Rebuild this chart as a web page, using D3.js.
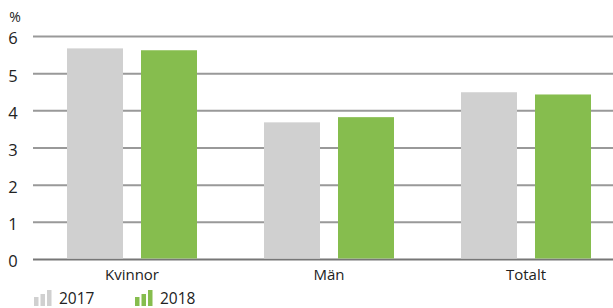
<!DOCTYPE html>
<html><head><meta charset="utf-8">
<script src="https://cdn.jsdelivr.net/npm/d3@7"></script>
<style>body{margin:0;background:#fff}svg{display:block}text{font-family:"Open Sans",sans-serif;fill:#222}</style>
</head><body>
<script>
const categories = ["Kvinnor", "Män", "Totalt"];
const years = ["2017", "2018"];
const values2017 = [5.68, 3.69, 4.50];
const values2018 = [5.63, 3.83, 4.44];
const yTicks = [0, 1, 2, 3, 4, 5, 6];
const colors = ["#d0d0d0", "#86bd4e"];

const W = 613, H = 308;
const svg = d3.select("body").append("svg").attr("width", W).attr("height", H);

const y = d3.scaleLinear().domain([0, 6]).range([259.5, 36.5]);
const x0 = d3.scaleBand().domain(categories).range([33, 624]).paddingInner(0).paddingOuter(0);
const x1 = d3.scaleBand().domain(years).range([34, 164]).paddingInner(18/74).paddingOuter(0);

// gridlines
svg.append("g").selectAll("line").data(yTicks).join("line")
  .attr("x1", 33).attr("x2", W)
  .attr("y1", d => y(d)).attr("y2", d => y(d))
  .attr("stroke", d => d === 0 ? "#777" : "#999").attr("stroke-width", 2);

// y tick labels
svg.append("g").selectAll("text").data(yTicks).join("text")
  .attr("x", 13).attr("y", d => y(d) + 2).attr("dy", "0.36em")
  .attr("text-anchor", "middle").style("font-size", "16.5px").text(d => d);
svg.append("text").attr("x", 15).attr("y", 22).attr("text-anchor", "middle")
  .style("font-size", "14px").text("%");

const series = [values2017, values2018];
const g = svg.append("g");
categories.forEach((c, i) => {
  years.forEach((yr, j) => {
    const v = series[j][i];
    g.append("rect")
      .attr("x", x0(c) + x1(yr)).attr("width", x1.bandwidth())
      .attr("y", y(v)).attr("height", y(0) - y(v) - 1)
      .attr("fill", colors[j]);
  });
  svg.append("text").attr("x", x0(c) + x1.range()[0] + (x1.range()[1]-x1.range()[0])/2)
    .attr("y", 280).attr("text-anchor", "middle").style("font-size", "15px").text(c);
});

// legend
const legX = [34, 135];
years.forEach((yr, j) => {
  const lg = svg.append("g").attr("transform", `translate(${legX[j]},0)`);
  const hs = [9, 12, 16];
  hs.forEach((h, k) => {
    lg.append("rect").attr("x", k * 6.5).attr("y", 306 - h).attr("width", 4.5).attr("height", h).attr("fill", colors[j]);
  });
  lg.append("text").attr("x", 25).attr("y", 303.5).style("font-size", "15.5px").text(yr);
});
</script>
</body></html>
